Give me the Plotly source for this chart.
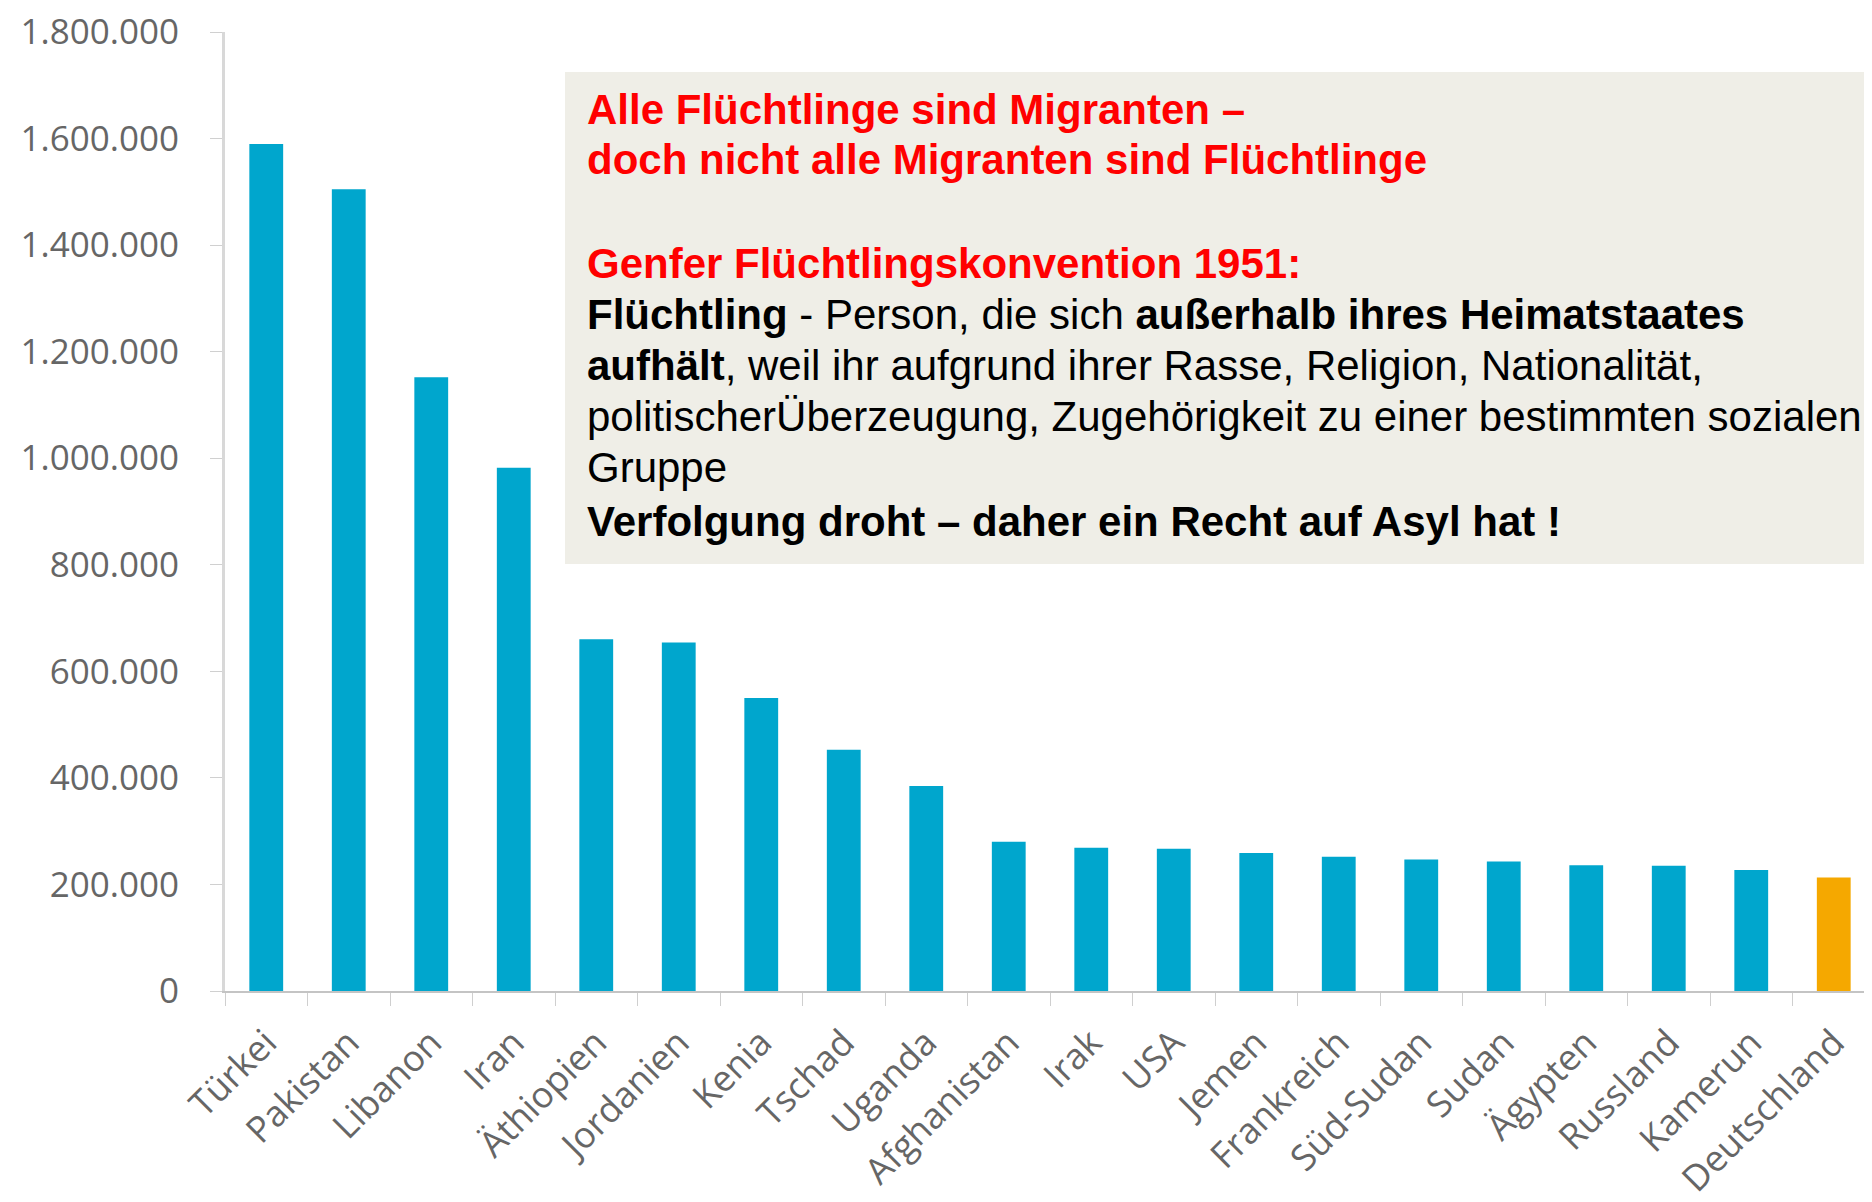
import plotly.graph_objects as go

# Countries hosting the most refugees
countries = ["Türkei", "Pakistan", "Libanon", "Iran", "Äthiopien", "Jordanien", "Kenia",
             "Tschad", "Uganda", "Afghanistan", "Irak", "USA", "Jemen", "Frankreich",
             "Süd-Sudan", "Sudan", "Ägypten", "Russland", "Kamerun", "Deutschland"]
refugees = [1590000, 1505000, 1152000, 982000, 660000, 654000, 550000,
            453000, 385000, 280000, 269000, 267000, 259000, 252000,
            247000, 243000, 236000, 235000, 227000, 213000]
highlight = "Deutschland"
y_ticks = [0, 200000, 400000, 600000, 800000, 1000000, 1200000, 1400000, 1600000, 1800000]

# Text box lines
box_lines = [
    ("<b>Alle Flüchtlinge sind Migranten –</b>", "#ff0000"),
    ("<b>doch nicht alle Migranten sind Flüchtlinge</b>", "#ff0000"),
    ("<b>Genfer Flüchtlingskonvention 1951:</b>", "#ff0000"),
    ("<b>Flüchtling</b> - Person, die sich <b>außerhalb ihres Heimatstaates</b>", "#000000"),
    ("<b>aufhält</b>, weil ihr aufgrund ihrer Rasse, Religion, Nationalität,", "#000000"),
    ("politischerÜberzeugung, Zugehörigkeit zu einer bestimmten sozialen", "#000000"),
    ("Gruppe", "#000000"),
    ("<b>Verfolgung droht – daher ein Recht auf Asyl hat !</b>", "#000000"),
]
line_pix = [101, 152, 255, 306, 357, 409, 459, 513]

W, H = 1872, 1202
ml, mr, mt, mb = 217, 5, 24, 219
pw, ph = W - ml - mr, H - mt - mb

def px_x(x):
    return (x - ml) / pw

def px_y(y):
    return (H - mb - y) / ph

bar_colors = ["#f5a800" if c == highlight else "#00a6cd" for c in countries]

fig = go.Figure()
fig.add_trace(go.Bar(x=countries, y=refugees, marker_color=bar_colors,
                     marker_line_width=0, width=0.41))

fig.update_layout(
    width=W, height=H,
    margin=dict(l=ml, r=mr, t=mt, b=mb),
    paper_bgcolor="white", plot_bgcolor="white",
    separators=",.",
    showlegend=False,
    font=dict(family="Open Sans", color="#666666"),
)
fig.update_xaxes(
    type="category", range=[-0.5, 19.5],
    showline=True, linecolor="#c4c4c4", linewidth=2,
    showgrid=False, ticks="outside", tickson="boundaries",
    ticklen=13, tickcolor="#cfcfcf", tickwidth=1,
    tickangle=-45, ticklabelstandoff=14,
    tickfont=dict(size=36, color="#666666"),
    automargin=False,
)
fig.update_yaxes(
    range=[0, 1800000], tickvals=y_ticks, tickformat=",d",
    showline=True, linecolor="#d8d8d8", linewidth=3,
    showgrid=False, zeroline=False, ticks="outside", ticklen=12,
    tickcolor="#d0d0d0", tickwidth=1, ticklabelstandoff=24,
    ticklabeloverflow="allow",
    tickfont=dict(size=35, color="#666666"),
    automargin=False,
)

# Info box
fig.add_shape(type="rect", xref="paper", yref="paper",
              x0=px_x(557), x1=px_x(1875), y0=px_y(556), y1=px_y(64),
              fillcolor="#efeee7", line_width=0, layer="above")

for (txt, col), yp in zip(box_lines, line_pix):
    fig.add_annotation(text=txt, xref="paper", yref="paper",
                       x=px_x(577), y=px_y(yp), xanchor="left", yanchor="middle",
                       showarrow=False, align="left",
                       font=dict(family="Liberation Sans, Arial", size=42, color=col))

fig.write_html("out.html")
